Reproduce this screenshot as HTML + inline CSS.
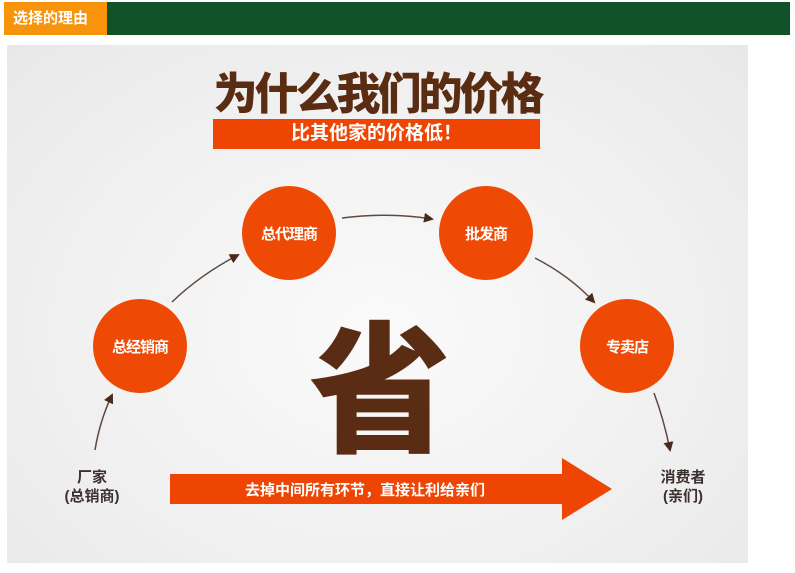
<!DOCTYPE html>
<html><head><meta charset="utf-8"><style>
body{margin:0;width:795px;height:573px;background:#fff;position:relative;overflow:hidden;font-family:"Liberation Sans","Noto Sans CJK SC",sans-serif}
.a{position:absolute}
.c{position:absolute;width:94px;height:94px;border-radius:50%;background:#ee4a05;color:#fff;font-size:15px;font-weight:bold;display:flex;align-items:center;justify-content:center;letter-spacing:-1px}
</style></head><body>
<div class="a" style="left:4px;top:2px;width:786px;height:33px;background:#115328"></div>
<div class="a" style="left:4px;top:2px;width:103px;height:33px;background:#f7940c;color:#fff;font-size:15px;font-weight:bold;line-height:33px;text-indent:9px">选择的理由</div>
<div class="a" style="left:7px;top:45px;width:741px;height:518px;background:radial-gradient(ellipse at 50% 55%,#fafafa 0%,#f0f0f0 60%,#e8e8e8 100%)"></div>
<div class="a" style="left:205px;top:70px;width:345px;text-align:center;font-size:44px;font-weight:900;color:#5a2c12;letter-spacing:-3px;line-height:50px">为什么我们的价格</div>
<div class="a" style="left:213px;top:119px;width:327px;height:30px;background:#ee4505;color:#fff;font-size:19px;font-weight:bold;text-align:center;line-height:30px">比其他家的价格低！</div>
<div class="c" style="left:93px;top:299px">总经销商</div>
<div class="c" style="left:242px;top:186px">总代理商</div>
<div class="c" style="left:439px;top:186px">批发商</div>
<div class="c" style="left:580px;top:299px">专卖店</div>
<div class="a" style="left:300px;top:318px;width:160px;text-align:center;font-size:142px;font-weight:900;color:#5a2c14;line-height:150px">省</div>
<svg class="a" style="left:0;top:0" width="795" height="573">
<defs><marker id="m" markerWidth="10" markerHeight="10" refX="8" refY="5" orient="auto" markerUnits="userSpaceOnUse"><path d="M0,0 L10,5 L0,10 Z" fill="#4a2a18"/></marker></defs>
<g stroke="#5a4a40" stroke-width="1.5" fill="none" marker-end="url(#m)">
<path d="M95,450 Q100,420 112,395"/>
<path d="M172,302 Q200,275 238,255"/>
<path d="M342,218 Q390,212 432,219"/>
<path d="M535,258 Q570,276 594,302"/>
<path d="M654,393 Q664,420 670,450"/>
</g>
<polygon points="170,474 562,474 562,458 612,489 562,520 562,504 170,504" fill="#ee4505"/>
<text x="365" y="495" fill="#fff" font-size="15" font-weight="bold" text-anchor="middle" font-family="Liberation Sans,Noto Sans CJK SC,sans-serif">去掉中间所有环节，直接让利给亲们</text>
<g fill="#3c3030" font-size="15" font-weight="bold" text-anchor="middle" font-family="Liberation Sans,Noto Sans CJK SC,sans-serif">
<text x="92" y="482">厂家</text><text x="92" y="501">(总销商)</text>
<text x="683" y="482">消费者</text><text x="683" y="501">(亲们)</text>
</g>
</svg>
</body></html>
